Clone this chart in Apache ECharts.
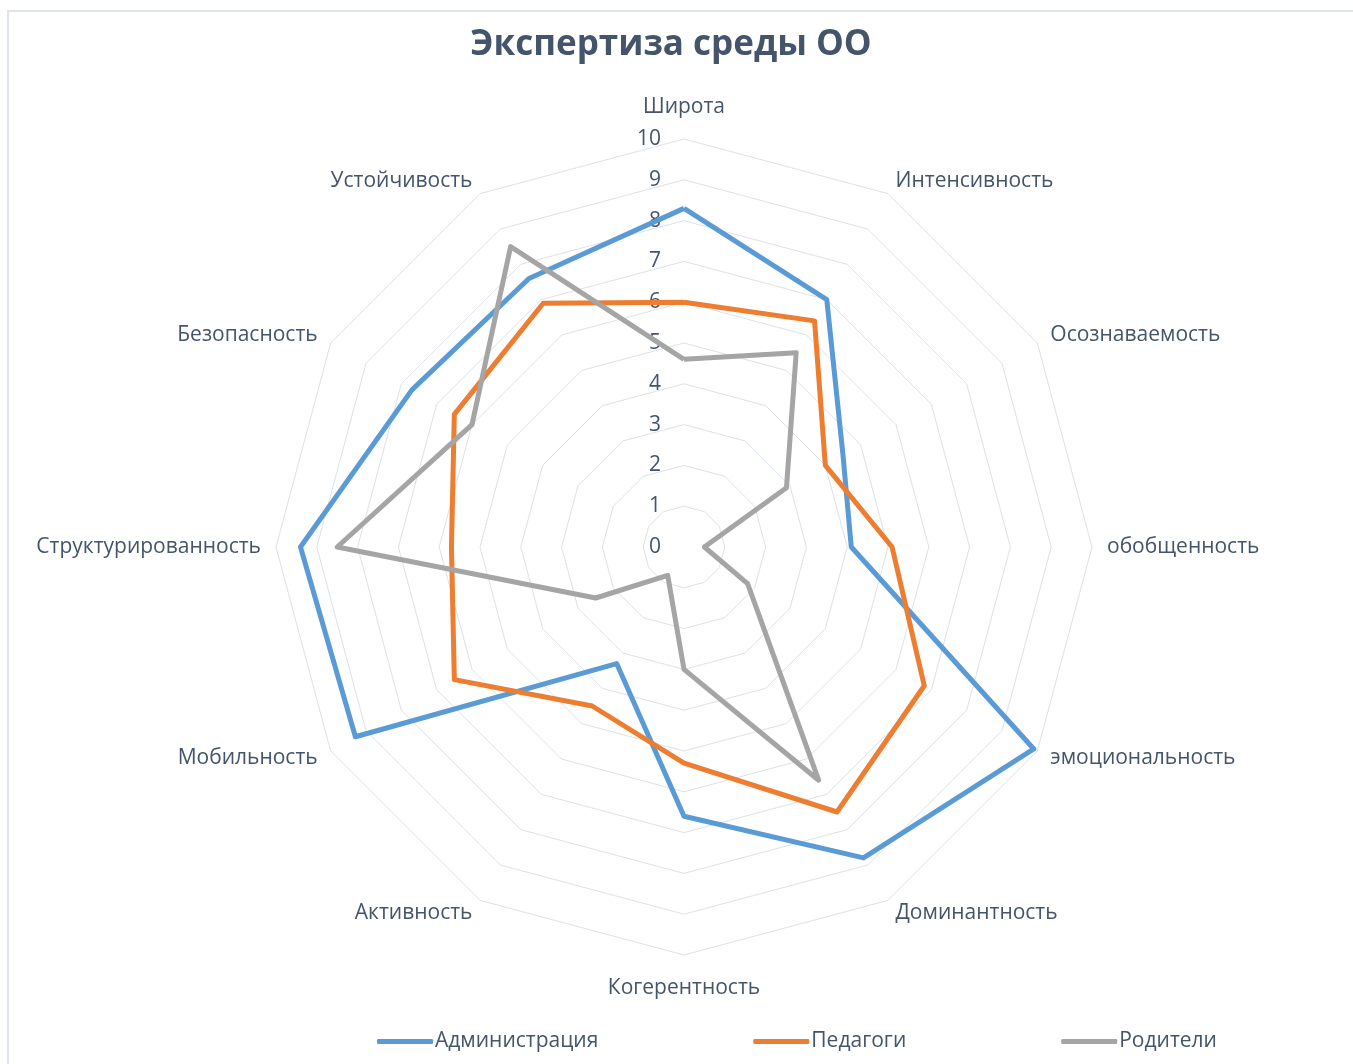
<!DOCTYPE html>
<html lang="ru">
<head>
<meta charset="UTF-8">
<title>Экспертиза среды ОО</title>
<script src="https://cdn.jsdelivr.net/npm/echarts@6/dist/echarts.min.js"></script>
<style>
  html, body { margin: 0; padding: 0; background: #fff; }
  #main { width: 1353px; height: 1064px; }
</style>
</head>
<body>
<div id="main"></div>
<script>
// оси по часовой стрелке, начиная сверху
var axes = ['Широта', 'Интенсивность', 'Осознаваемость', 'обобщенность', 'эмоциональность',
  'Доминантность', 'Когерентность', 'Активность', 'Мобильность', 'Структурированность',
  'Безопасность', 'Устойчивость'];
var seriesNames = ['Администрация', 'Педагоги', 'Родители'];
var admin   = [8.3, 7.0, 4.5, 4.1, 9.9, 8.8, 6.6, 3.3, 9.3, 9.4, 7.7, 7.6];
var teachers = [6.0, 6.4, 4.0, 5.1, 6.8, 7.5, 5.3, 4.5, 6.5, 5.7, 6.5, 6.9];
var parents = [4.6, 5.5, 2.9, 0.5, 1.8, 6.6, 3.0, 0.8, 2.5, 8.5, 6.0, 8.5];
var colors = ['#5b9bd5', '#ed7d31', '#a5a5a5'];
var textColor = '#44546a';

// echarts рисует радар против часовой стрелки - переставляем
var order = [0];
for (var i = axes.length - 1; i > 0; i--) order.push(i);
function reorder(arr) { return order.map(function (k) { return arr[k]; }); }

var indicator = reorder(axes).map(function (name, i) {
  var ind = { name: name, min: 0, max: 10 };
  // верх и низ - чуть дальше от сетки
  if (i === 0) ind.nameGap = 21;
  if (i === 6) ind.nameGap = 23;
  if (i === 0) {
    ind.axisLabel = { show: true, fontSize: 21, color: textColor, margin: 23,
      fontFamily: 'Open Sans' };
  }
  return ind;
});

var myChart = echarts.init(document.getElementById('main'));
var option = {
  animation: false,
  backgroundColor: '#fff',
  color: colors,
  graphic: [{
    type: 'rect',
    shape: { x: 8, y: 11, width: 1400, height: 1100 },
    style: { fill: 'none', stroke: '#dfe3ea', lineWidth: 2 },
    silent: true
  }],
  title: {
    text: 'Экспертиза среды ОО',
    left: 666,
    textAlign: 'center',
    top: 23,
    textStyle: { fontSize: 35, fontWeight: 'bold', color: textColor, fontFamily: 'Open Sans' }
  },
  legend: {
    data: seriesNames,
    left: 377,
    top: 1031,
    padding: 0,
    icon: 'roundRect',
    itemWidth: 56,
    itemHeight: 5,
    itemGap: 155,
    textStyle: { fontSize: 21, color: textColor, fontFamily: 'Open Sans', padding: [0, 0, 0, -3] }
  },
  radar: {
    center: [684, 547],
    radius: 408,
    startAngle: 90,
    shape: 'polygon',
    splitNumber: 10,
    nameGap: 15,
    axisName: { fontSize: 21, color: textColor, fontFamily: 'Open Sans' },
    axisLine: { show: false },
    axisTick: { show: false },
    axisLabel: { show: false },
    splitArea: { show: false },
    splitLine: { lineStyle: { color: '#dde2ea', width: 1 } },
    indicator: indicator
  },
  series: [{
    type: 'radar',
    symbol: 'none',
    data: [
      { name: seriesNames[0], value: reorder(admin),
        lineStyle: { width: 5, color: colors[0] }, itemStyle: { color: colors[0] } },
      { name: seriesNames[1], value: reorder(teachers),
        lineStyle: { width: 5, color: colors[1] }, itemStyle: { color: colors[1] } },
      { name: seriesNames[2], value: reorder(parents),
        lineStyle: { width: 5, color: colors[2] }, itemStyle: { color: colors[2] } }
    ]
  }]
};
myChart.setOption(option);
</script>
</body>
</html>
